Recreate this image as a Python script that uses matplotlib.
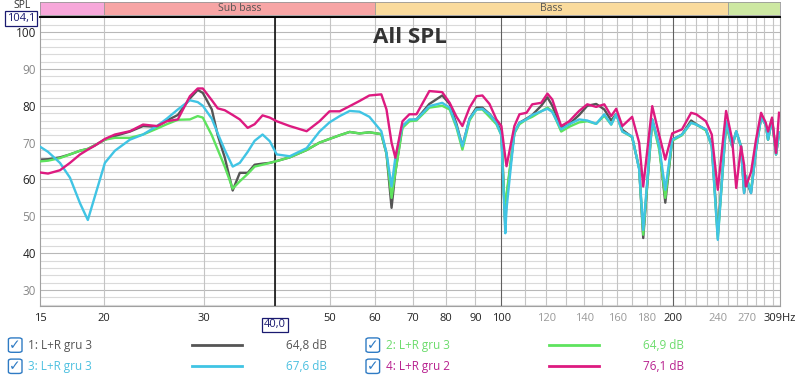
import matplotlib
matplotlib.use("Agg")
import matplotlib.pyplot as plt
from matplotlib.patches import FancyBboxPatch

plt.rcParams['font.family'] = ['Open Sans', 'DejaVu Sans']

# frequency points (Hz) shared by all four traces
freq = [15.44, 15.95, 16.74, 17.43, 18.16, 18.74, 19.29, 20.08, 20.91, 22.22,
        23.43, 24.79, 25.80, 26.98, 28.33, 29.24, 29.85, 30.96, 31.71, 32.62,
        33.69, 34.67, 35.80, 36.82, 38.02, 39.14, 40.27, 42.44, 45.45, 47.88,
        49.86, 51.95, 54.1, 56.3, 58.6, 61.5, 62.8, 64.1, 65.1, 67.0,
        68.9, 70.9, 74.7, 78.7, 81.1, 83.4, 85.4, 87.9, 90.4, 92.6,
        95.3, 98.0, 100.0, 101.6, 102.1, 105.4, 107.6, 110.7, 113.3, 117.5,
        120.5, 122.9, 127.4, 131.6, 137.0, 141.6, 146.8, 151.7, 156.0, 159.2,
        163.2, 169.8, 174.7, 177.6, 184.2, 189.5, 194.2, 199.7, 207.8, 215.6,
        220.1, 228.9, 234.4, 240.2, 248.4, 254.6, 258.8, 263.9, 267.2, 269.1,
        274.8, 280.4, 286.2, 291.7, 294.4, 299.2, 304.1, 307.8]

spl_1 = [65.4, 65.5, 66.0, 66.8, 67.8, 68.3, 69.3, 70.8, 71.8, 73.0,
         74.5, 74.3, 76.0, 77.5, 82.0, 84.3, 83.5, 79.0, 72.0, 66.0,
         57.0, 61.8, 61.8, 64.0, 64.3, 64.5, 65.0, 66.0, 68.0, 70.0,
         71.0, 72.0, 72.9, 72.5, 72.8, 72.3, 67.0, 52.3, 62.0, 74.5,
         76.0, 76.3, 80.5, 82.8, 80.5, 75.0, 69.0, 76.5, 79.5, 79.5,
         77.8, 75.5, 73.0, 47.0, 55.0, 72.7, 75.4, 76.5, 77.5, 80.0,
         82.3, 80.0, 74.0, 75.0, 77.5, 80.0, 80.5, 79.0, 76.0, 77.8,
         73.5, 71.5, 63.0, 44.1, 76.3, 69.0, 53.7, 70.8, 72.2, 76.0,
         75.0, 73.5, 69.5, 45.0, 75.0, 69.0, 73.0, 69.0, 56.3, 60.0,
         56.3, 68.1, 76.8, 74.9, 70.8, 76.3, 66.8, 72.7]

spl_2 = [64.9, 65.1, 65.8, 66.8, 67.8, 68.3, 69.3, 70.8, 71.3, 71.3,
         72.2, 73.8, 75.0, 76.2, 76.3, 77.2, 76.8, 72.0, 68.1, 63.5,
         57.5, 59.5, 61.5, 63.5, 64.0, 64.5, 65.0, 66.0, 68.0, 70.0,
         71.0, 72.0, 72.9, 72.5, 72.8, 72.3, 67.0, 55.0, 62.0, 74.0,
         75.8, 76.0, 79.5, 80.0, 79.0, 74.0, 68.1, 76.0, 79.0, 79.0,
         77.0, 75.0, 72.0, 48.0, 56.0, 72.5, 75.0, 76.3, 77.0, 78.5,
         79.5, 78.5, 73.0, 74.3, 75.5, 75.8, 75.1, 77.3, 74.9, 77.7,
         73.0, 71.5, 63.0, 45.0, 76.0, 68.0, 55.0, 70.5, 72.0, 75.4,
         74.9, 73.3, 69.0, 44.0, 75.0, 69.0, 73.0, 69.0, 57.0, 61.0,
         57.0, 68.1, 76.8, 74.9, 70.8, 76.3, 66.8, 72.7]

spl_3 = [68.9, 67.5, 64.5, 60.5, 53.5, 49.0, 55.5, 64.5, 67.8, 70.8,
         72.2, 74.5, 76.5, 79.0, 81.5, 81.0, 80.0, 76.5, 72.5, 68.0,
         63.5, 64.5, 67.5, 70.5, 72.2, 70.4, 66.8, 66.3, 68.5, 73.0,
         75.5, 77.2, 78.6, 78.4, 77.0, 73.1, 67.2, 58.1, 66.0, 74.5,
         76.3, 76.3, 79.9, 80.8, 79.5, 74.5, 69.0, 76.5, 79.0, 79.2,
         77.7, 75.4, 72.0, 45.4, 52.0, 72.7, 75.4, 76.3, 77.5, 78.5,
         79.2, 78.3, 73.6, 75.0, 76.3, 76.0, 75.1, 77.7, 74.9, 77.7,
         73.0, 71.7, 62.7, 46.3, 76.3, 69.0, 57.2, 70.8, 72.2, 75.4,
         74.9, 73.6, 69.0, 43.6, 75.8, 69.0, 73.1, 69.0, 56.3, 61.0,
         56.3, 68.1, 76.8, 74.9, 70.8, 76.3, 66.8, 72.7]

spl_4 = [61.9, 61.6, 62.5, 64.5, 66.8, 68.1, 69.2, 71.0, 72.2, 73.1,
         74.9, 74.5, 75.8, 76.3, 82.6, 84.7, 84.7, 81.5, 79.3, 78.8,
         77.5, 76.3, 74.0, 75.0, 77.4, 76.8, 75.8, 74.5, 73.1, 75.8,
         78.5, 78.5, 79.9, 81.3, 82.8, 83.1, 79.0, 70.0, 65.9, 75.8,
         77.7, 77.7, 84.0, 83.7, 80.8, 77.0, 74.5, 79.5, 82.6, 82.8,
         80.5, 76.3, 74.5, 66.0, 63.6, 74.5, 77.7, 78.1, 80.4, 80.8,
         83.3, 81.7, 74.5, 75.8, 78.6, 80.4, 79.7, 80.4, 77.2, 79.2,
         74.5, 77.0, 70.0, 58.1, 79.9, 72.0, 65.4, 72.5, 73.6, 78.1,
         77.7, 75.8, 72.2, 57.2, 78.6, 70.8, 57.7, 69.0, 64.0, 58.1,
         62.0, 70.8, 78.1, 75.4, 73.0, 76.8, 67.2, 78.1]

series_labels = ['1: L+R gru 3', '2: L+R gru 3', '3: L+R gru 3', '4: L+R gru 2']
series_levels = ['64,8 dB', '64,9 dB', '67,6 dB', '76,1 dB']
series_colors = ['#555555', '#5ee35e', '#40c4e4', '#dd1a80']
label_colors = ['#555555', '#6cdc6c', '#4cc0e0', '#b8218f']

band_edges = [15.44, 20, 60, 250, 309]
band_names = ['', 'Sub bass', 'Bass', '']
band_colors = ['#f7a8da', '#f7a5a5', '#fadb9d', '#cde8a2']

x_ticks = [15.44, 20, 30, 50, 60, 70, 80, 90, 100, 120, 140, 160, 180, 200, 240, 270, 309]
x_tick_labels = ['15', '20', '30', '50', '60', '70', '80', '90', '100', '120', '140',
                 '160', '180', '200', '240', '270', '309Hz']
y_ticks = [30, 40, 50, 60, 70, 80, 90, 100]

F_MIN, F_MAX = 15.44, 309
Y_MIN, Y_MAX = 25.6, 104.1

fig = plt.figure(figsize=(8, 3.78), dpi=100)
ax = fig.add_axes([0.05, 0.19, 0.925, 0.765])
ax.set_xscale('log')
ax.set_xlim(F_MIN, F_MAX)
ax.set_ylim(Y_MIN, Y_MAX)

# grid
for v in range(26, 105, 2):
    ax.axhline(v, color='#b8b8b8' if v % 10 == 0 else '#dadada', lw=0.8, zorder=0)
for f in range(20, 310, 10):
    c = '#c4c4c4'
    if f in (100, 200):
        c = '#606060'
    ax.axvline(f, color=c, lw=0.8, zorder=0)
ax.axvline(40, color='black', lw=1.1, zorder=1)

for i, spl in enumerate([spl_1, spl_2, spl_3, spl_4]):
    ax.plot(freq, spl, color=series_colors[i], lw=1.7, zorder=2 + i)

ax.text(0.5, 0.965, 'All SPL', transform=ax.transAxes, ha='center', va='top',
        fontsize=16, fontweight='bold', color='#333333', zorder=10)

ax.xaxis.set_minor_locator(plt.NullLocator())
ax.set_xticks(x_ticks)
ax.set_xticklabels(x_tick_labels, fontsize=8)
dark_x = {'15', '20', '30', '50', '60', '70', '80', '90', '100', '200', '309Hz'}
for t in ax.get_xticklabels():
    t.set_color('#222222' if t.get_text() in dark_x else '#999999')
ax.set_yticks(y_ticks)
ax.set_yticklabels([str(v) for v in y_ticks], fontsize=8.5)
for t, v in zip(ax.get_yticklabels(), y_ticks):
    t.set_color('#222222' if v % 20 == 0 else '#888888')
ax.tick_params(length=0, pad=3)
ax.tick_params(axis='x', pad=5)

for s in ('left', 'right', 'bottom'):
    ax.spines[s].set_color('#a0a0a0')
    ax.spines[s].set_linewidth(0.8)
ax.spines['top'].set_color('black')
ax.spines['top'].set_linewidth(1.4)

# cursor box on x axis
ax.text(40, -0.045, '40,0', transform=ax.get_xaxis_transform(), ha='center', va='top',
        fontsize=8, color='#1a1a70',
        bbox=dict(boxstyle='square,pad=0.15', fc='white', ec='#1a1a70', lw=0.9))

# band strip on top
bax = fig.add_axes([0.05, 0.961, 0.925, 0.034])
bax.set_xscale('log')
bax.set_xlim(F_MIN, F_MAX)
bax.set_ylim(0, 1)
for i in range(len(band_names)):
    bax.axvspan(band_edges[i], band_edges[i + 1], color=band_colors[i], lw=0)
    if i > 0:
        bax.axvline(band_edges[i], color='#999999', lw=0.6)
    if band_names[i]:
        mid = (band_edges[i] * band_edges[i + 1]) ** 0.5
        bax.text(mid, 0.45, band_names[i], ha='center', va='center', fontsize=7.5, color='#555555')
bax.set_xticks([])
bax.set_yticks([])
bax.xaxis.set_minor_locator(plt.NullLocator())
for s in bax.spines.values():
    s.set_color('#999999')
    s.set_linewidth(0.6)

fig.text(0.028, 1.0, 'SPL', ha='center', va='top', fontsize=7.5, color='#333333')
fig.text(0.026, 0.951, '104,1', ha='center', va='center', fontsize=8, color='#1a1a70',
         bbox=dict(boxstyle='square,pad=0.15', fc='white', ec='#1a1a70', lw=0.9))

# legend rows
rows_y = [0.087, 0.031]
cols = [(0.019, 0.035, 0.24, 0.303, 0.409), (0.466, 0.482, 0.686, 0.749, 0.855)]
for i in range(4):
    col = cols[i % 2]
    y = rows_y[i // 2]
    cb_x, tx, l0, l1, vx = col
    box = FancyBboxPatch((cb_x - 0.0085, y - 0.019), 0.017, 0.038,
                         boxstyle='round,pad=0,rounding_size=0.004',
                         transform=fig.transFigure, fc='white', ec='#2f7bc4', lw=1.0)
    fig.patches.append(box)
    fig.text(cb_x, y, '\u2713', ha='center', va='center', fontsize=10,
             color='#2f7bc4', family='DejaVu Sans')
    fig.text(tx, y, series_labels[i], ha='left', va='center', fontsize=8.5, color=label_colors[i])
    fig.add_artist(plt.Line2D([l0, l1], [y, y], transform=fig.transFigure,
                              color=series_colors[i], lw=2.0))
    fig.text(vx, y, series_levels[i], ha='right', va='center', fontsize=8.5, color=label_colors[i])

fig.savefig('out.png', dpi=100)
